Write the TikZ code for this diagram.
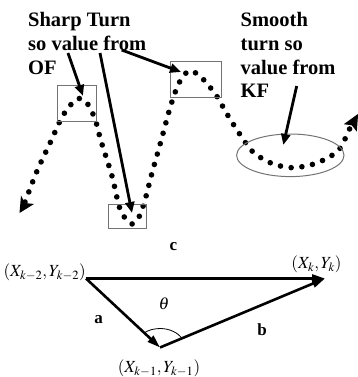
\documentclass[tikz,border=0pt]{standalone}
\usepackage{mathptmx}
\usepackage{fontspec}
\setmainfont{Liberation Serif}
\usetikzlibrary{arrows.meta,shapes.geometric}

\begin{document}
\begin{tikzpicture}[x=1pt,y=1pt,
  hbox/.style={draw=black!55, line width=1pt, inner sep=0pt},
  dotline/.style={line width=5.6pt, line cap=round, dash pattern=on 0pt off 10.8pt},
  lbl/.style={font=\fontsize{20.5}{23.7}\selectfont\bfseries, align=left, inner sep=0pt, anchor=north west},
  pointer/.style={line width=2.8pt, -{Triangle[length=11pt,width=9pt]}},
  vec/.style={line width=2.6pt, -{Triangle[length=13pt,width=8pt]}},
  tag/.style={font=\fontsize{17}{17}\selectfont\bfseries, inner sep=0pt},
  crd/.style={font=\fontsize{17}{17}\selectfont, inner sep=0pt}
]
\useasboundingbox (0,0) rectangle (358,-377);
\clip (0,0) rectangle (358,-377);

% trajectory
\draw[dotline] plot[smooth] coordinates {(25,-202) (37,-171) (51,-141) (60,-121)
  (68,-108) (78,-98.5) (87,-103) (95,-119) (101,-141) (112,-176) (119,-206)
  (125,-218) (132,-224) (139,-217) (145,-200) (152,-173) (161,-141) (170,-108)
  (178,-85) (186,-73) (192,-71) (202,-78) (216,-95) (227,-114) (239,-133)
  (253,-152) (272,-163.5) (293,-167.7) (316,-163.3) (336,-152.7) (343,-143) (350,-128)};
\fill (19.5,-213) -- (21,-195.5) -- (24.8,-203) -- (34,-204) -- cycle;
\fill (358.1,-113.9) -- (356.8,-131.6) -- (351.8,-125.3) -- (343.8,-124.2) -- cycle;

% highlighted turns
\node[hbox, minimum width=38.3pt, minimum height=35.3pt] (turnA) at (76.85,-103.35) {};
\node[hbox, minimum width=37.7pt, minimum height=24.1pt] (turnB) at (127.15,-216.25) {};
\node[hbox, minimum width=51pt, minimum height=36pt] (turnC) at (196.2,-79.7) {};
\node[hbox, ellipse, minimum width=107.4pt, minimum height=42.6pt] (turnD) at (290.3,-155.3) {};

\node[lbl] (sharplbl) at (28,-12.4) {Sharp Turn\\so value from\\OF};
\node[lbl] (smoothlbl) at (240.5,-12.4) {Smooth\\turn so\\value from\\KF};

\coordinate (fromA) at (68,-53);
\coordinate (fromB) at (100,-53);
\coordinate (fromC) at (121.7,-50);
\coordinate (fromD) at (296.7,-86);
\coordinate (toA) at (83,-96);
\coordinate (toB) at (132,-213);
\coordinate (toC) at (181,-72);
\coordinate (toD) at (283.3,-145);
\draw[pointer] (fromA) -- (toA);
\draw[pointer] (fromB) -- (toB);
\draw[pointer] (fromC) -- (toC);
\draw[pointer] (fromD) -- (toD);

% angle between the two segments
\coordinate (pkm2) at (86,-278.5);
\coordinate (pkm1) at (160,-347.5);
\coordinate (pk) at (325,-278.5);
\draw[vec] (pkm2) -- (pk);
\draw[vec] (pkm2) -- (pkm1);
\draw[vec] (pkm1) -- (pk);
\draw[line width=0.8pt] (pkm1) ++(27.5:25pt and 19pt) arc[start angle=27.5, end angle=131, x radius=25pt, y radius=19pt];

\node[crd, anchor=east] (lkm2) at (86,-272.5) {$(X_{k{-}2},Y_{k{-}2})$};
\node[crd] (lk) at (316.5,-264.5) {$(X_k,Y_k)$};
\node[crd] (lkm1) at (159,-368) {$(X_{k{-}1},Y_{k{-}1})$};
\node[crd] (theta) at (164,-304) {$\theta$};
\node[tag] (tagc) at (173.5,-246.5) {c};
\node[tag] (taga) at (98.5,-319.5) {a};
\node[tag] (tagb) at (262,-329.5) {b};
\end{tikzpicture}
\end{document}
